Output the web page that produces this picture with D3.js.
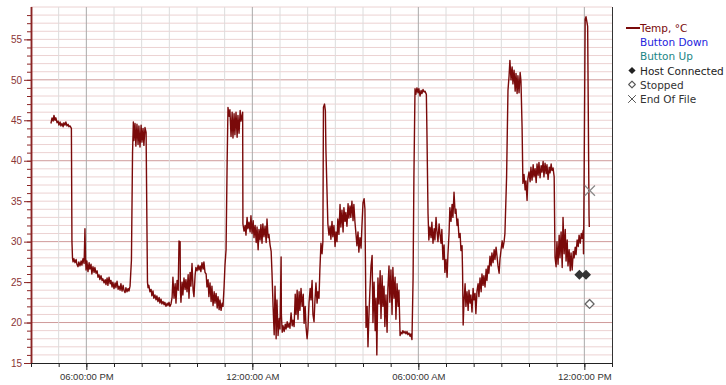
<!DOCTYPE html>
<html><head><meta charset="utf-8">
<script src="https://cdn.jsdelivr.net/npm/d3@7"></script>
<style>body{margin:0;background:#fff}svg{display:block}</style>
</head><body>
<svg id="c" width="726" height="385"></svg>
<script>
// ---- data (hours after 04:00 PM, °C) ----
const startTime = new Date(2021, 0, 1, 16, 0, 0);
const endTime = new Date(2021, 0, 2, 13, 0, 0);
const yTickLabels = [15, 20, 25, 30, 35, 40, 45, 50, 55];
const xTickLabels = ["06:00:00 PM", "12:00:00 AM", "06:00:00 AM", "12:00:00 PM"];
const legendItems = ["Temp, °C", "Button Down", "Button Up", "Host Connected", "Stopped", "End Of File"];
const tempSeries = [
[0.72,44.6],[0.76,45.3],[0.80,44.9],[0.83,45.6],[0.87,45.0],[0.90,45.3],[0.94,44.7],[0.98,44.9],[1.01,44.4],[1.05,44.8],
[1.08,44.3],[1.12,44.6],[1.16,44.2],[1.19,44.7],[1.23,44.4],[1.26,44.8],[1.30,44.3],[1.34,44.5],[1.37,44.2],[1.41,44.3],
[1.46,44.0],[1.48,30.0],[1.50,28.0],[1.52,27.5],[1.55,27.9],[1.59,27.4],[1.63,27.8],[1.66,27.2],[1.70,26.9],[1.73,27.5],
[1.77,27.0],[1.81,27.6],[1.84,27.1],[1.88,27.9],[1.92,27.3],[1.95,31.6],[1.97,28.0],[1.99,26.5],[2.02,27.6],[2.06,26.3],
[2.10,27.4],[2.13,26.6],[2.17,27.2],[2.20,26.0],[2.24,26.9],[2.28,26.2],[2.31,26.8],[2.35,26.1],[2.39,26.4],[2.42,25.6],
[2.46,25.9],[2.49,25.3],[2.53,25.8],[2.57,25.2],[2.60,25.4],[2.64,24.9],[2.68,25.3],[2.71,24.7],[2.75,25.5],[2.78,24.6],
[2.82,25.6],[2.86,24.8],[2.89,25.2],[2.93,24.4],[2.96,25.0],[3.00,24.2],[3.04,24.9],[3.07,24.3],[3.11,25.1],[3.15,24.1],
[3.18,24.5],[3.22,24.0],[3.25,24.8],[3.29,23.9],[3.33,24.6],[3.36,24.0],[3.40,23.7],[3.43,24.3],[3.47,23.8],[3.51,24.2],
[3.54,23.9],[3.58,24.5],[3.63,27.7],[3.67,41.0],[3.70,44.8],[3.72,42.5],[3.76,44.6],[3.79,41.8],[3.83,44.5],[3.87,42.0],
[3.90,44.3],[3.94,41.7],[3.98,44.4],[4.01,42.3],[4.05,44.0],[4.08,41.9],[4.12,44.1],[4.16,43.5],[4.19,32.0],[4.21,25.0],
[4.23,24.3],[4.26,24.6],[4.30,23.8],[4.34,24.1],[4.37,23.3],[4.41,23.9],[4.44,23.0],[4.48,23.4],[4.52,22.8],[4.55,23.3],
[4.59,22.6],[4.63,23.1],[4.66,22.4],[4.70,22.9],[4.73,22.3],[4.77,22.6],[4.81,22.2],[4.84,22.5],[4.88,22.0],[4.92,22.4],
[4.95,22.1],[4.99,22.5],[5.02,22.0],[5.06,22.3],[5.10,23.1],[5.13,25.6],[5.17,23.0],[5.21,24.8],[5.24,22.4],[5.28,25.2],
[5.32,24.0],[5.35,30.1],[5.37,29.3],[5.39,30.0],[5.40,24.0],[5.42,22.5],[5.46,25.0],[5.49,23.4],[5.53,25.5],[5.57,24.1],
[5.60,25.3],[5.64,23.8],[5.68,25.9],[5.71,23.0],[5.75,26.2],[5.78,24.5],[5.82,27.3],[5.86,24.0],[5.89,23.2],[5.93,25.8],
[5.96,26.8],[6.00,26.4],[6.04,27.1],[6.07,26.5],[6.11,27.0],[6.14,26.3],[6.18,27.4],[6.22,26.6],[6.25,27.5],[6.29,26.2],
[6.33,26.0],[6.36,24.4],[6.40,25.3],[6.43,23.2],[6.47,24.9],[6.51,22.6],[6.54,24.5],[6.58,22.1],[6.62,23.8],[6.65,22.4],
[6.69,23.6],[6.73,21.8],[6.76,23.2],[6.80,21.6],[6.83,22.8],[6.87,21.5],[6.91,22.4],[6.94,22.0],[6.98,24.5],[7.01,27.0],
[7.05,29.0],[7.09,40.0],[7.12,46.6],[7.16,45.5],[7.19,46.3],[7.23,43.0],[7.27,46.0],[7.30,42.8],[7.34,45.8],[7.37,43.2],
[7.41,46.0],[7.45,42.9],[7.48,45.6],[7.52,43.4],[7.56,46.2],[7.59,44.9],[7.65,46.0],[7.66,32.2],[7.70,31.3],[7.74,32.0],
[7.77,30.8],[7.81,33.0],[7.84,31.6],[7.88,32.4],[7.92,31.2],[7.95,33.2],[7.99,31.0],[8.03,32.6],[8.06,30.5],[8.10,32.0],
[8.14,29.9],[8.17,31.8],[8.21,29.0],[8.24,31.5],[8.28,30.2],[8.31,32.1],[8.35,29.8],[8.38,32.2],[8.42,30.6],[8.46,31.9],
[8.50,29.9],[8.53,32.8],[8.57,30.5],[8.60,30.9],[8.64,29.6],[8.68,28.8],[8.71,26.2],[8.75,22.0],[8.79,18.5],[8.82,24.5],
[8.86,18.0],[8.89,22.8],[8.93,18.4],[8.97,20.5],[9.00,19.2],[9.04,28.1],[9.05,21.0],[9.08,18.8],[9.11,19.6],[9.15,18.9],
[9.19,19.8],[9.22,19.2],[9.26,20.1],[9.29,19.4],[9.33,19.9],[9.36,19.3],[9.40,21.2],[9.44,19.6],[9.47,20.3],[9.51,19.5],
[9.55,23.5],[9.58,21.0],[9.62,24.0],[9.65,20.4],[9.69,23.8],[9.72,21.5],[9.76,24.2],[9.80,22.0],[9.84,23.5],[9.87,19.9],
[9.91,22.0],[9.94,19.5],[9.98,18.0],[10.01,19.2],[10.05,22.5],[10.09,24.2],[10.12,22.8],[10.16,25.2],[10.19,21.0],[10.23,20.1],
[10.26,22.5],[10.30,24.9],[10.34,22.4],[10.37,23.8],[10.41,23.0],[10.44,26.4],[10.48,29.8],[10.52,28.5],[10.55,30.0],[10.57,46.6],
[10.61,47.0],[10.64,46.2],[10.66,41.3],[10.73,32.2],[10.77,30.8],[10.81,31.9],[10.84,30.3],[10.88,32.5],[10.91,30.6],[10.95,32.0],
[10.99,29.4],[11.02,31.2],[11.06,30.0],[11.09,32.8],[11.13,30.9],[11.17,34.6],[11.20,31.8],[11.24,33.9],[11.28,31.2],[11.31,34.2],
[11.35,32.5],[11.38,33.6],[11.42,31.9],[11.46,34.7],[11.49,32.9],[11.53,34.4],[11.56,33.0],[11.60,35.0],[11.64,32.6],[11.67,34.6],
[11.71,32.4],[11.75,30.8],[11.78,29.5],[11.82,31.2],[11.85,28.7],[11.89,30.5],[11.93,29.2],[11.96,31.8],[12.00,34.8],[12.04,35.3],
[12.07,34.0],[12.11,19.4],[12.15,22.0],[12.18,17.0],[12.22,21.5],[12.25,24.0],[12.29,27.0],[12.33,28.3],[12.36,20.0],[12.40,25.0],
[12.44,19.0],[12.47,23.0],[12.50,16.0],[12.54,25.5],[12.58,22.3],[12.62,26.4],[12.65,20.5],[12.69,25.8],[12.72,22.0],[12.76,24.5],
[12.79,19.5],[12.83,23.4],[12.87,18.8],[12.90,24.2],[12.94,27.0],[12.97,22.5],[13.01,26.5],[13.05,21.0],[13.08,26.8],[13.12,23.0],
[13.16,25.6],[13.19,20.4],[13.23,24.8],[13.27,22.0],[13.30,24.0],[13.34,18.4],[13.37,18.8],[13.41,18.6],[13.44,19.0],[13.48,18.7],
[13.52,18.9],[13.55,18.6],[13.59,18.9],[13.62,18.5],[13.66,18.7],[13.70,18.3],[13.73,18.6],[13.77,17.9],[13.81,25.4],[13.84,38.0],
[13.88,48.9],[13.91,48.2],[13.95,49.0],[13.99,48.4],[14.02,48.9],[14.06,48.0],[14.10,48.7],[14.13,48.3],[14.17,48.8],[14.21,48.5],
[14.24,48.6],[14.29,48.2],[14.31,43.7],[14.35,33.5],[14.38,30.2],[14.42,31.8],[14.46,30.5],[14.49,32.4],[14.53,29.8],[14.57,31.6],
[14.60,30.2],[14.64,33.0],[14.67,31.4],[14.71,30.0],[14.75,32.2],[14.78,31.0],[14.82,29.8],[14.85,31.5],[14.89,27.8],[14.93,29.6],
[14.96,26.2],[15.00,27.8],[15.04,25.6],[15.07,28.4],[15.11,31.0],[15.14,34.2],[15.18,32.5],[15.22,34.6],[15.25,33.0],[15.29,36.1],
[15.33,33.5],[15.36,34.0],[15.40,32.0],[15.43,32.8],[15.47,30.5],[15.51,31.0],[15.54,28.9],[15.58,29.5],[15.60,26.0],[15.62,19.7],
[15.65,22.5],[15.69,24.8],[15.72,22.0],[15.76,23.8],[15.80,21.5],[15.83,24.0],[15.87,22.4],[15.90,23.4],[15.94,21.3],[15.98,24.2],
[16.01,22.8],[16.05,23.6],[16.08,21.1],[16.12,23.9],[16.16,24.8],[16.19,23.2],[16.23,25.5],[16.27,23.8],[16.30,26.0],[16.34,24.6],
[16.37,25.8],[16.41,24.4],[16.45,26.6],[16.48,25.2],[16.52,27.0],[16.55,26.1],[16.59,28.2],[16.63,27.0],[16.66,28.6],[16.70,27.4],
[16.74,29.0],[16.77,27.8],[16.81,29.3],[16.85,28.0],[16.88,27.0],[16.92,26.1],[16.95,27.8],[16.99,29.0],[17.03,30.1],[17.06,29.2],
[17.10,30.0],[17.13,31.0],[17.19,38.0],[17.24,48.7],[17.28,50.5],[17.31,52.4],[17.35,50.0],[17.39,51.6],[17.42,49.5],[17.46,51.2],
[17.50,48.6],[17.53,50.8],[17.57,48.3],[17.60,50.5],[17.64,48.4],[17.68,50.9],[17.71,49.8],[17.75,44.1],[17.78,37.2],[17.82,38.3],
[17.86,36.4],[17.89,37.5],[17.93,35.1],[17.96,37.8],[18.00,38.6],[18.04,37.4],[18.07,39.2],[18.11,37.6],[18.15,39.5],[18.18,38.0],
[18.22,39.0],[18.26,37.3],[18.29,39.6],[18.33,38.2],[18.36,39.8],[18.40,37.9],[18.44,39.4],[18.47,38.6],[18.51,39.9],[18.54,38.0],
[18.58,39.7],[18.62,38.4],[18.65,39.5],[18.69,37.7],[18.73,39.2],[18.76,38.5],[18.80,39.6],[18.83,38.8],[18.87,39.1],[18.91,38.0],
[18.94,28.1],[18.98,26.9],[19.01,30.0],[19.05,27.2],[19.09,30.8],[19.12,28.0],[19.16,31.2],[19.20,26.8],[19.23,33.0],[19.27,28.5],
[19.31,31.5],[19.34,27.6],[19.38,30.2],[19.41,27.0],[19.45,29.0],[19.49,26.4],[19.52,28.6],[19.56,26.5],[19.60,28.8],[19.63,28.0],
[19.67,29.3],[19.70,28.4],[19.74,30.2],[19.78,29.4],[19.81,30.8],[19.85,29.8],[19.89,31.0],[19.92,30.4],[19.96,31.4],[19.97,28.5],
[19.99,36.6],[20.03,57.5],[20.06,57.8],[20.10,57.0],[20.12,56.6],[20.14,47.4],[20.17,33.2],[20.18,31.8]
];
const hostConnected = [[19.82, 25.9], [20.06, 25.9]];
const stopped = [[20.19, 22.3]];
const endOfFile = [[20.20, 36.3]];

// ---- scales ----
const svg = d3.select("#c");
const L = 31, R = 612, T = 7, B = 363;
const toDate = h => new Date(startTime.getTime() + h * 3600e3);
const x = d3.scaleTime().domain([startTime, endTime]).range([L, R]);
const y = d3.scaleLinear().domain([15, 59]).range([B, T]);

// ---- grid ----
const g = svg.append("g");
g.selectAll("line.hg").data(d3.range(16, 60)).join("line")
  .attr("x1", L).attr("x2", R).attr("y1", d => y(d)).attr("y2", d => y(d))
  .attr("stroke", d => d % 10 === 0 ? "#cf9a9a" : "#ecd2d2").attr("stroke-width", 1);
const hours = d3.timeHour.range(d3.timeHour.offset(startTime, 1), endTime);
g.selectAll("line.vg").data(hours).join("line")
  .attr("y1", T).attr("y2", B).attr("x1", d => x(d)).attr("x2", d => x(d))
  .attr("stroke", d => d.getHours() % 6 === 0 ? "#a9a9a9" : "#dcdcdc").attr("stroke-width", 1);

// ---- line ----
const line = d3.line().x(d => x(toDate(d[0]))).y(d => y(d[1]));
svg.append("path").datum(tempSeries).attr("d", line)
  .attr("fill", "none").attr("stroke", "#7a0a0a").attr("stroke-width", 1.4).attr("stroke-linejoin", "round");

// ---- markers ----
const sq = s => d3.symbol().type(d3.symbolSquare).size(s);
svg.selectAll("path.hc").data(hostConnected).join("path")
  .attr("d", sq(50)).attr("transform", d => `translate(${x(toDate(d[0]))},${y(d[1])}) rotate(45)`).attr("fill", "#333");
svg.selectAll("path.st").data(stopped).join("path")
  .attr("d", sq(40)).attr("transform", d => `translate(${x(toDate(d[0]))},${y(d[1])}) rotate(45)`)
  .attr("fill", "#fff").attr("stroke", "#666").attr("stroke-width", 1.3).attr("stroke-linejoin", "round");
svg.selectAll("path.eof").data(endOfFile).join("path")
  .attr("d", d3.symbol().type(d3.symbolX).size(70)).attr("transform", d => `translate(${x(toDate(d[0]))},${y(d[1])})`)
  .attr("fill", "none").attr("stroke", "#888").attr("stroke-width", 1.2);

// ---- axes ----
const yMinor = svg.append("g").attr("transform", `translate(${L},0)`)
  .call(d3.axisLeft(y).tickValues(d3.range(15, 59)).tickSize(4).tickFormat(""));
const yMajor = svg.append("g").attr("transform", `translate(${L},0)`)
  .call(d3.axisLeft(y).tickValues(yTickLabels).tickSize(7).tickPadding(2).tickFormat(d3.format("d")));
[yMinor, yMajor].forEach(a => {
  a.selectAll("path,line").attr("stroke", "#8b2525");
  a.select(".domain").attr("d", `M0.5,${T}V${B}`).attr("stroke-width", 1.5);
});
yMajor.selectAll("text").attr("fill", "#8b3535").style("font", "10px 'Liberation Sans', Arial, sans-serif");

const xMinor = svg.append("g").attr("transform", `translate(0,${B})`)
  .call(d3.axisBottom(x).ticks(d3.timeHour.every(1)).tickSize(4).tickFormat(""));
const majorHours = hours.filter(d => d.getHours() % 6 === 0);
const fmt = d3.timeFormat("%I:%M:%S %p");
const xMajor = svg.append("g").attr("transform", `translate(0,${B})`)
  .call(d3.axisBottom(x).tickValues(majorHours).tickSize(7).tickPadding(3).tickFormat((d, i) => xTickLabels[i] || fmt(d)));
[xMinor, xMajor].forEach(a => {
  a.selectAll("path,line").attr("stroke", "#222");
  a.select(".domain").attr("d", `M${L},0.5H${R}`);
});
xMajor.selectAll("text").attr("fill", "#333").style("font", "9.5px 'Liberation Sans', Arial, sans-serif");

// right border
svg.append("line").attr("x1", R + 0.5).attr("x2", R + 0.5).attr("y1", T).attr("y2", B).attr("stroke", "#333");

// ---- legend ----
const lg = svg.append("g").style("font", "10.5px 'DejaVu Sans', Verdana, sans-serif");
const lgColors = ["#7a0a0a", "#2222dd", "#1a8585", "#222", "#333", "#333"];
const lgY = [28, 42, 56, 70.5, 84.5, 99];
legendItems.forEach((t, i) => {
  lg.append("text").attr("x", 640).attr("y", lgY[i]).attr("dominant-baseline", "central")
    .attr("fill", lgColors[i]).text(t);
});
lg.append("line").attr("x1", 626).attr("x2", 640).attr("y1", lgY[0]).attr("y2", lgY[0]).attr("stroke", "#7a0a0a").attr("stroke-width", 2);
lg.append("path").attr("d", sq(26)).attr("transform", `translate(632,${lgY[3]}) rotate(45)`).attr("fill", "#222");
lg.append("path").attr("d", sq(22)).attr("transform", `translate(632,${lgY[4]}) rotate(45)`)
  .attr("fill", "#fff").attr("stroke", "#555").attr("stroke-width", 1.1).attr("stroke-linejoin", "round");
lg.append("path").attr("d", d3.symbol().type(d3.symbolX).size(40)).attr("transform", `translate(632,${lgY[5]})`)
  .attr("fill", "none").attr("stroke", "#555").attr("stroke-width", 1);
</script>
</body></html>
